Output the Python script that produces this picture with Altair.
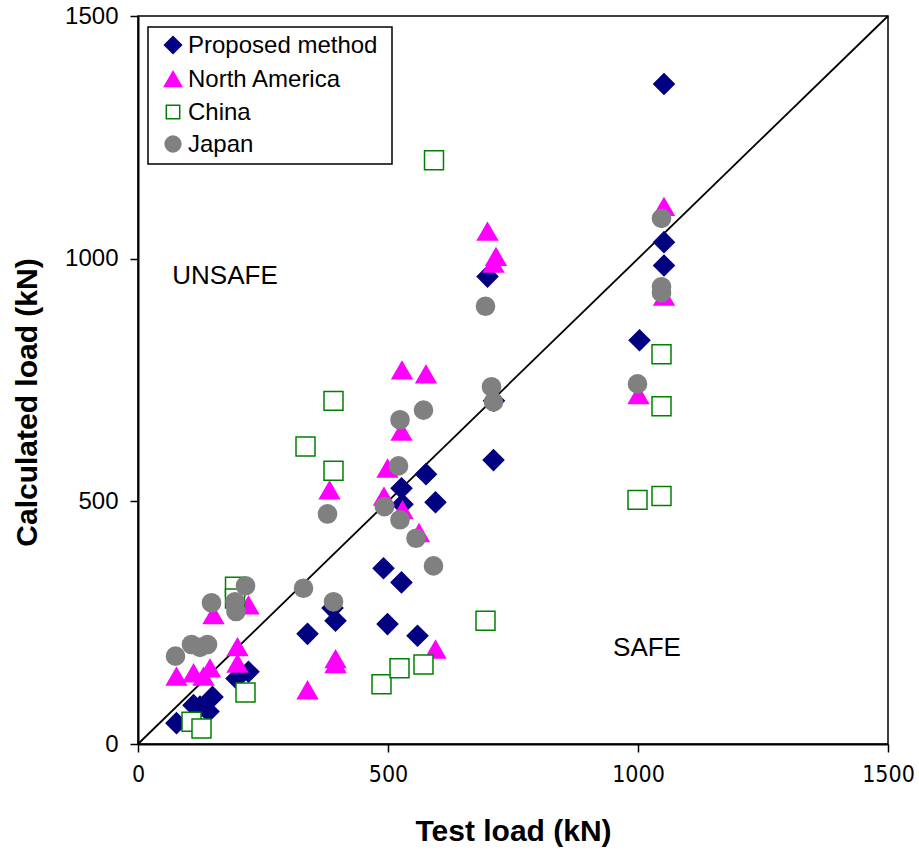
import altair as alt
import pandas as pd

series_names = ["Proposed method", "North America", "China", "Japan"]

prop_x = [77, 111, 124, 141, 149, 197, 221, 339, 389, 395, 491, 527, 499, 559, 527, 529, 576, 595, 712, 711, 699, 1003, 1052, 1052, 1052]
prop_y = [43, 80, 77, 67, 97, 135, 149, 227, 280, 254, 362, 333, 247, 223, 527, 494, 556, 498, 707, 585, 963, 832, 1360, 1034, 986]

na_x = [77, 111, 131, 144, 199, 199, 151, 221, 339, 395, 395, 383, 492, 499, 527, 528, 576, 529, 562, 595, 699, 716, 711, 1001, 1052, 1052]
na_y = [139, 146, 139, 156, 200, 166, 266, 286, 111, 175, 165, 523, 510, 568, 644, 770, 762, 482, 435, 195, 1056, 1004, 990, 719, 1107, 922]

china_x = [107, 127, 215, 194, 194, 335, 391, 391, 487, 523, 571, 592, 695, 999, 1047, 1047, 1047]
china_y = [46, 32, 106, 324, 300, 613, 707, 563, 123, 156, 164, 1203, 254, 503, 803, 696, 511]

japan_x = [75, 107, 124, 139, 147, 194, 196, 215, 331, 391, 379, 493, 521, 524, 524, 556, 571, 591, 707, 711, 695, 999, 1047, 1047, 1047]
japan_y = [181, 205, 199, 205, 291, 293, 273, 326, 321, 293, 474, 489, 573, 668, 462, 424, 688, 367, 736, 705, 902, 742, 1083, 942, 930]

tick_values = [0, 500, 1000, 1500]
line_vals = [0, 1500]

ann_labels = ["UNSAFE", "SAFE"]
ann_x = [174, 1018]
ann_y = [964, 198]

shape_range = ["diamond", "triangle-up", "square", "circle"]
fill_range = ["#000080", "#FF00FF", "#FFFFFF", "#808080"]
stroke_range = ["#000080", "#FF00FF", "#008000", "#808080"]
size_range = [420, 330, 170, 215]
legend_size_range = [290, 300, 180, 250]

rows = []
for name, xs, ys in zip(series_names, [prop_x, na_x, china_x, japan_x], [prop_y, na_y, china_y, japan_y]):
    for xv, yv in zip(xs, ys):
        rows.append({"series": name, "test": xv, "calc": yv})
df = pd.DataFrame(rows)

line_df = pd.DataFrame({"test": line_vals, "calc": line_vals})
ann_df = pd.DataFrame({"test": ann_x, "calc": ann_y, "label": ann_labels})

sx = alt.Scale(domain=[0, 1500], nice=False, zero=False)
sy = alt.Scale(domain=[0, 1500], nice=False, zero=False)

narrow = "Liberation Sans Narrow, Arial Narrow, DejaVu Sans Condensed, Roboto Condensed, Liberation Sans"

x_axis = alt.Axis(
    values=tick_values, format="d", title="Test load (kN)", grid=False,
    domainColor="black", domainWidth=2, tickColor="black", tickSize=8, tickWidth=1.5,
    labelFont=narrow, labelFontSize=23, labelColor="black", labelPadding=11,
    labelFlush=False, labelOverlap=False,
    titleFont="Liberation Sans", titleFontWeight="bold", titleFontSize=30, titleColor="black",
    titleX=375, titleY=87, titleBaseline="middle", titleAlign="center",
)
y_axis = alt.Axis(
    values=tick_values, format="d", title="Calculated load (kN)", grid=False,
    domainColor="black", domainWidth=2, tickColor="black", tickSize=8, tickWidth=1.5,
    labelFont="Liberation Sans", labelFontSize=24, labelColor="black", labelPadding=12,
    labelFlush=False, labelOverlap=False,
    titleFont="Liberation Sans", titleFontWeight="bold", titleFontSize=30, titleColor="black",
    titleX=-111, titleY=386, titleBaseline="middle", titleAlign="center", titleAngle=270,
)

def enc_series(sizes):
    return dict(
        shape=alt.Shape("series:N", scale=alt.Scale(domain=series_names, range=shape_range), legend=None),
        fill=alt.Fill("series:N", scale=alt.Scale(domain=series_names, range=fill_range), legend=None),
        stroke=alt.Stroke("series:N", scale=alt.Scale(domain=series_names, range=stroke_range), legend=None),
        size=alt.Size("series:N", scale=alt.Scale(domain=series_names, range=sizes), legend=None),
    )

line = alt.Chart(line_df).mark_line(color="black", strokeWidth=1.8).encode(
    x=alt.X("test:Q", scale=sx, axis=x_axis),
    y=alt.Y("calc:Q", scale=sy, axis=y_axis),
)

points = alt.Chart(df).mark_point(opacity=1, strokeWidth=1.5).encode(
    x=alt.X("test:Q", scale=sx, axis=x_axis),
    y=alt.Y("calc:Q", scale=sy, axis=y_axis),
    **enc_series(size_range),
)

ann = alt.Chart(ann_df).mark_text(font="Liberation Sans", fontSize=26, color="black").encode(
    x=alt.X("test:Q", scale=sx, axis=x_axis),
    y=alt.Y("calc:Q", scale=sy, axis=y_axis),
    text="label:N",
)

# legend (drawn as marks in pixel space)
legend_box = alt.Chart(pd.DataFrame({"k": [0]})).mark_rect(
    fill="white", stroke="black", strokeWidth=1.5
).encode(x=alt.value(10), x2=alt.value(254), y=alt.value(11), y2=alt.value(148))

legend_layers = [legend_box]
row_y = [29, 63, 96, 128]
for i, name in enumerate(series_names):
    ldf = pd.DataFrame({"series": [name]})
    sym = alt.Chart(ldf).mark_point(opacity=1, strokeWidth=1.5).encode(
        x=alt.value(35), y=alt.value(row_y[i]),
        shape=alt.Shape("series:N", scale=alt.Scale(domain=series_names, range=shape_range), legend=None),
        fill=alt.Fill("series:N", scale=alt.Scale(domain=series_names, range=fill_range), legend=None),
        stroke=alt.Stroke("series:N", scale=alt.Scale(domain=series_names, range=stroke_range), legend=None),
        size=alt.value(legend_size_range[i]),
    )
    txt = alt.Chart(ldf).mark_text(
        font="Liberation Sans", fontSize=24, color="black", align="left", baseline="middle"
    ).encode(x=alt.value(50), y=alt.value(row_y[i] + 1), text="series:N")
    legend_layers += [sym, txt]

chart = alt.layer(line, points, ann, *legend_layers).properties(
    width=750, height=728,
    autosize=alt.AutoSizeParams(type="none"),
    padding={"left": 138, "top": 16, "right": 31, "bottom": 107},
    background="white",
).configure_view(stroke="black", strokeWidth=1.5)

chart.save("out.html", embed_options={"renderer": "svg", "actions": False})
